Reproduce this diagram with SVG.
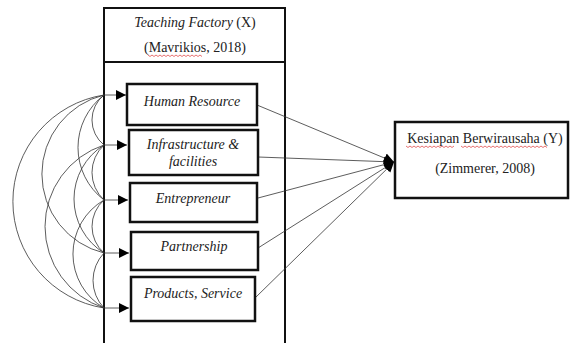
<svg xmlns="http://www.w3.org/2000/svg" width="571" height="343" viewBox="0 0 571 343">
<defs>
<style>
.t{font-family:"Liberation Serif","Times New Roman",serif;font-size:14px;fill:#222;text-anchor:middle}
.r{font-size:14px}
.i{font-style:italic}
.box{fill:#fff;stroke:#111;stroke-width:2.5}
.frame{fill:none;stroke:#111;stroke-width:2}
.con{fill:none;stroke:#333;stroke-width:0.8}
.wave{fill:none;stroke:#d33;stroke-width:0.7}
</style>
<marker id="ah" viewBox="0 0 10 10" refX="10" refY="5" markerWidth="10" markerHeight="13" markerUnits="userSpaceOnUse" orient="auto">
<path d="M0,0 L10,5 L0,10 Z" fill="#000"/>
</marker>
</defs>

<g id="frame">
<rect class="frame" x="104" y="8" width="181" height="54"/>
<path class="frame" d="M104,62 V343 M285,62 V343"/>
<text class="t" x="195" y="27"><tspan class="i">Teaching Factory</tspan> (X)</text>
<text class="t" x="195" y="52">(Mavrikios, 2018)</text>
<path class="wave" d="M148,55 l2,1.5 l2,-1.5 l2,1.5 l2,-1.5 l2,1.5 l2,-1.5 l2,1.5 l2,-1.5 l2,1.5 l2,-1.5 l2,1.5 l2,-1.5 l2,1.5 l2,-1.5 l2,1.5 l2,-1.5 l2,1.5 l2,-1.5 l2,1.5 l2,-1.5 l2,1.5 l2,-1.5 l2,1.5 l2,-1.5 l2,1.5 l2,-1.5 l2,1.5"/>
</g>

<g id="connectors">
<path class="con" d="M104,95 A32,32 0 0 0 104,145"/>
<path class="con" d="M104,95 A66,66 0 0 0 104,200"/>
<path class="con" d="M104,95 A81.3,81.3 0 0 0 104,253"/>
<path class="con" d="M104,95 A107.8,107.8 0 0 0 104,308"/>
<path class="con" d="M104,145 A37.5,37.5 0 0 0 104,200"/>
<path class="con" d="M104,145 A63.6,63.6 0 0 0 104,253"/>
<path class="con" d="M104,145 A85.8,85.8 0 0 0 104,308"/>
<path class="con" d="M104,200 A35.3,35.3 0 0 0 104,253"/>
<path class="con" d="M104,200 A62.5,62.5 0 0 0 104,308"/>
<path class="con" d="M104,253 A39.9,39.9 0 0 0 104,308"/>
<path class="con" d="M104,95 H126" marker-end="url(#ah)"/>
<path class="con" d="M104,145 H127" marker-end="url(#ah)"/>
<path class="con" d="M104,200 H128" marker-end="url(#ah)"/>
<path class="con" d="M104,253 H129" marker-end="url(#ah)"/>
<path class="con" d="M104,308 H129" marker-end="url(#ah)"/>
<path class="con" d="M257,105 L394,162" marker-end="url(#ah)"/>
<path class="con" d="M258,157 L394,162" marker-end="url(#ah)"/>
<path class="con" d="M258,198 L394,162" marker-end="url(#ah)"/>
<path class="con" d="M258,248 L394,162" marker-end="url(#ah)"/>
<path class="con" d="M255,298 L394,162" marker-end="url(#ah)"/>
</g>

<g id="human-resource">
<rect class="box" x="127" y="84" width="130" height="41"/>
<text class="t i" x="192" y="106">Human Resource</text>
</g>
<g id="infrastructure">
<rect class="box" x="129" y="130" width="129" height="45"/>
<text class="t i" x="193" y="149">Infrastructure &amp;</text>
<text class="t i" x="193" y="166">facilities</text>
</g>
<g id="entrepreneur">
<rect class="box" x="130" y="183" width="127" height="39"/>
<text class="t i" x="193" y="203">Entrepreneur</text>
</g>
<g id="partnership">
<rect class="box" x="131" y="232" width="127" height="38"/>
<text class="t i" x="194" y="251">Partnership</text>
</g>
<g id="products-service">
<rect class="box" x="131" y="277" width="124" height="44"/>
<text class="t i" x="193" y="298">Products, Service</text>
</g>

<g id="kesiapan">
<rect class="box" x="395" y="122" width="173" height="76"/>
<text class="t r" x="485" y="143">Kesiapan Berwirausaha (Y)</text>
<text class="t r" x="485" y="173">(Zimmerer, 2008)</text>
<path class="wave" d="M406,146 l2,1.5 l2,-1.5 l2,1.5 l2,-1.5 l2,1.5 l2,-1.5 l2,1.5 l2,-1.5 l2,1.5 l2,-1.5 l2,1.5 l2,-1.5 l2,1.5 l2,-1.5 l2,1.5 l2,-1.5 l2,1.5 l2,-1.5 l2,1.5 l2,-1.5 l2,1.5 l2,-1.5 l2,1.5 l2,-1.5"/>
<path class="wave" d="M461,146 l2,1.5 l2,-1.5 l2,1.5 l2,-1.5 l2,1.5 l2,-1.5 l2,1.5 l2,-1.5 l2,1.5 l2,-1.5 l2,1.5 l2,-1.5 l2,1.5 l2,-1.5 l2,1.5 l2,-1.5 l2,1.5 l2,-1.5 l2,1.5 l2,-1.5 l2,1.5 l2,-1.5 l2,1.5 l2,-1.5 l2,1.5 l2,-1.5 l2,1.5 l2,-1.5 l2,1.5 l2,-1.5 l2,1.5 l2,-1.5 l2,1.5 l2,-1.5 l2,1.5 l2,-1.5 l2,1.5 l2,-1.5 l2,1.5 l2,-1.5 l2,1.5 l2,-1.5 l2,1.5"/>
</g>
</svg>
